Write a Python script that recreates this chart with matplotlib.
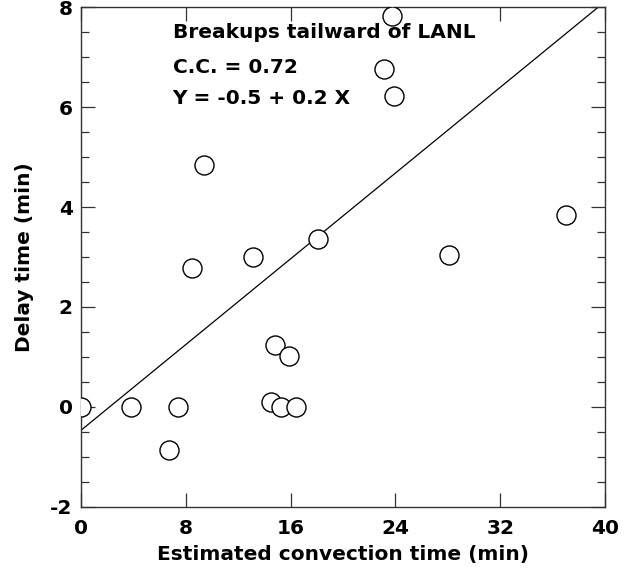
import matplotlib
matplotlib.use("Agg")
import matplotlib.pyplot as plt
import numpy as np
from matplotlib.ticker import MultipleLocator

plt.rcParams['font.family'] = ['DejaVu Sans']
plt.rcParams['font.weight'] = 'bold'
plt.rcParams['axes.unicode_minus'] = False

# Data
conv_time = [0.0, 3.8, 7.4, 6.7, 8.5, 9.4, 13.15, 18.1, 14.8, 15.9, 14.5, 15.25, 16.4,
             23.75, 23.1, 23.9, 37.05, 28.1]
delay_time = [0.0, 0.0, 0.0, -0.87, 2.78, 4.85, 3.01, 3.36, 1.23, 1.01, 0.1, 0.0, 0.0,
              7.83, 6.76, 6.22, 3.85, 3.05]

fit_intercept = -0.47
fit_slope = 0.2146

annotation_lines = ["Breakups tailward of LANL", "C.C. = 0.72", "Y = -0.5 + 0.2 X"]
x_ticks = [0, 8, 16, 24, 32, 40]
y_ticks = [-2, 0, 2, 4, 6, 8]

fig = plt.figure(figsize=(6.38, 5.71), dpi=100)
ax = fig.add_axes([81/638, 1-506.7/571, 524/638, 499.4/571])

ax.plot(conv_time, delay_time, 'o', ms=13.7, mfc='white', mec='black', mew=1.0,
        clip_on=True, zorder=3)
xl = np.array([0, 40])
ax.plot(xl, fit_intercept + fit_slope*xl, color='black', lw=0.9, zorder=2)

ax.set_xlim(0, 40)
ax.set_ylim(-2, 8)
ax.set_xticks(x_ticks)
ax.set_yticks(y_ticks)
ax.yaxis.set_minor_locator(MultipleLocator(0.5))
ax.tick_params(which='both', direction='in', top=True, right=True, width=0.9, color='#333333')
ax.tick_params(which='major', length=10, labelsize=14.5)
ax.tick_params(which='minor', length=5.5)
ax.tick_params(axis='x', which='major', pad=9)
ax.tick_params(axis='y', which='major', pad=6)
for lab in ax.get_xticklabels() + ax.get_yticklabels():
    lab.set_fontweight('bold')
for sp in ax.spines.values():
    sp.set_linewidth(1.0)
    sp.set_color('#333333')

ax.set_xlabel("Estimated convection time (min)", fontsize=14.5, fontweight='bold', labelpad=5)
ax.set_ylabel("Delay time (min)", fontsize=14.5, fontweight='bold', labelpad=12)

ys = [0.939, 0.869, 0.807]
for t, yy in zip(annotation_lines, ys):
    ax.text(0.175, yy, t, transform=ax.transAxes, fontsize=14.5, fontweight='bold',
            va='baseline', ha='left')

fig.savefig("out.png", dpi=100)
